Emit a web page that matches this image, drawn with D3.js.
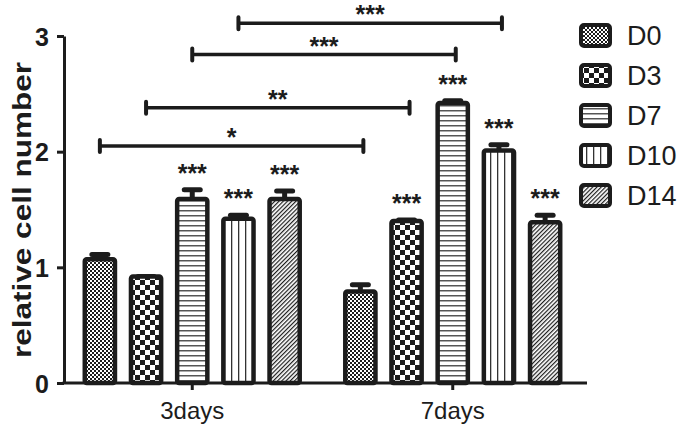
<!DOCTYPE html>
<html>
<head>
<meta charset="utf-8">
<script src="https://cdn.jsdelivr.net/npm/d3@7"></script>
<style>
  body { margin: 0; background: #fff; }
  text { font-family: "Liberation Sans", Arial, sans-serif; fill: #1c1c1c; }
</style>
</head>
<body>
<script>
// chart data
var groups = ["3days", "7days"];
var days = ["D0", "D3", "D7", "D10", "D14"];
var means3 = [1.07, 0.92, 1.59, 1.42, 1.59];
var errs3 = [0.04, 0.00, 0.08, 0.03, 0.07];
var stars3 = ["", "", "***", "***", "***"];
var means7 = [0.79, 1.40, 2.42, 2.01, 1.39];
var errs7 = [0.06, 0.01, 0.02, 0.05, 0.06];
var stars7 = ["", "***", "***", "***", "***"];
var yTicks = [0, 1, 2, 3];

// comparison brackets 3days vs 7days for the same day
var bracketDays = ["D0", "D3", "D7", "D10"];
var bracketLevels = [2.05, 2.38, 2.84, 3.11];
var bracketLabels = ["*", "**", "***", "***"];

var width = 680,
    height = 435;

var ink = "#1c1c1c";

var svg = d3.select("body")
    .append("svg")
    .attr("width", width)
    .attr("height", height);

var defs = svg.append("defs");

//fine checkerboard
var p0 = defs.append("pattern").attr("id", "pD0")
    .attr("patternUnits", "userSpaceOnUse").attr("width", 4).attr("height", 4);
p0.append("rect").attr("width", 4).attr("height", 4).attr("fill", "#fff");
p0.append("rect").attr("width", 2).attr("height", 2).attr("fill", ink);
p0.append("rect").attr("x", 2).attr("y", 2).attr("width", 2).attr("height", 2).attr("fill", ink);

//coarse checkerboard
var p3 = defs.append("pattern").attr("id", "pD3")
    .attr("patternUnits", "userSpaceOnUse").attr("width", 10).attr("height", 10);
p3.append("rect").attr("width", 10).attr("height", 10).attr("fill", "#fff");
p3.append("rect").attr("width", 5).attr("height", 5).attr("fill", ink);
p3.append("rect").attr("x", 5).attr("y", 5).attr("width", 5).attr("height", 5).attr("fill", ink);

//horizontal lines
var p7 = defs.append("pattern").attr("id", "pD7")
    .attr("patternUnits", "userSpaceOnUse").attr("width", 10).attr("height", 5);
p7.append("rect").attr("width", 10).attr("height", 5).attr("fill", "#fff");
p7.append("rect").attr("y", 0).attr("width", 10).attr("height", 1.5).attr("fill", "#555");

//vertical lines
var p10 = defs.append("pattern").attr("id", "pD10")
    .attr("patternUnits", "userSpaceOnUse").attr("width", 7).attr("height", 10);
p10.append("rect").attr("width", 7).attr("height", 10).attr("fill", "#fff");
p10.append("rect").attr("x", 0).attr("width", 1.3).attr("height", 10).attr("fill", "#333");

//diagonal lines
var p14 = defs.append("pattern").attr("id", "pD14")
    .attr("patternUnits", "userSpaceOnUse").attr("width", 3).attr("height", 10)
    .attr("patternTransform", "rotate(45)");
p14.append("rect").attr("width", 3).attr("height", 10).attr("fill", "#fff");
p14.append("rect").attr("width", 1.2).attr("height", 10).attr("fill", ink);

var fills = d3.scaleOrdinal()
    .domain(days)
    .range(["url(#pD0)", "url(#pD3)", "url(#pD7)", "url(#pD10)", "url(#pD14)"]);

//scales
var plotLeft = 64, plotRight = 587;

var y = d3.scaleLinear()
    .domain([0, 3])
    .range([383, 36]);

var x0 = d3.scaleBand()
    .domain(groups)
    .range([plotLeft - 2, plotRight - 4])
    .padding(0);

var x1 = d3.scaleBand()
    .domain(days)
    .range([0, x0.bandwidth()])
    .paddingInner(0.26)
    .paddingOuter(0.45);

var rows = [];
groups.forEach(function(g, gi){
    var m = gi === 0 ? means3 : means7,
        e = gi === 0 ? errs3 : errs7,
        s = gi === 0 ? stars3 : stars7;
    days.forEach(function(d, i){
        rows.push({group: g, day: d, mean: m[i], err: e[i], star: s[i]});
    });
});

function cx(d){ return x0(d.group) + x1(d.day) + x1.bandwidth() / 2; }

//error bars (upper only)
var errG = svg.append("g");
errG.selectAll(".stem")
    .data(rows)
    .enter()
    .append("line")
    .attr("x1", cx).attr("x2", cx)
    .attr("y1", function(d){ return y(d.mean); })
    .attr("y2", function(d){ return y(d.mean + d.err); })
    .attr("stroke", ink).attr("stroke-width", 5);
errG.selectAll(".cap")
    .data(rows)
    .enter()
    .append("line")
    .attr("x1", function(d){ return cx(d) - 8; })
    .attr("x2", function(d){ return cx(d) + 8; })
    .attr("y1", function(d){ return y(d.mean + d.err); })
    .attr("y2", function(d){ return y(d.mean + d.err); })
    .attr("stroke", ink).attr("stroke-width", 5)
    .attr("stroke-linecap", "round");

//bars
svg.selectAll(".bar")
    .data(rows)
    .enter()
    .append("rect")
    .attr("class", "bar")
    .attr("x", function(d){ return x0(d.group) + x1(d.day) + 2; })
    .attr("width", x1.bandwidth() - 4)
    .attr("y", function(d){ return y(d.mean); })
    .attr("height", function(d){ return y(0) - y(d.mean); })
    .attr("rx", 2)
    .attr("fill", function(d){ return fills(d.day); })
    .attr("stroke", ink)
    .attr("stroke-width", 4.5);

//significance stars over bars
svg.selectAll(".star")
    .data(rows.filter(function(d){ return d.star; }))
    .enter()
    .append("text")
    .attr("x", cx)
    .attr("y", function(d){ return y(d.mean + d.err) - 8; })
    .attr("text-anchor", "middle")
    .attr("font-size", 25)
    .attr("font-weight", "bold")
    .text(function(d){ return d.star; });

//brackets
var brackets = bracketDays.map(function(d, i){
    return {
        xa: x0(groups[0]) + x1(d) + x1.bandwidth() / 2,
        xb: x0(groups[1]) + x1(d) + x1.bandwidth() / 2 + 3,
        yv: y(bracketLevels[i]),
        label: bracketLabels[i]
    };
});
var br = svg.selectAll(".bracket")
    .data(brackets)
    .enter()
    .append("g");
br.append("line")
    .attr("x1", function(d){ return d.xa; }).attr("x2", function(d){ return d.xb; })
    .attr("y1", function(d){ return d.yv; }).attr("y2", function(d){ return d.yv; })
    .attr("stroke", ink).attr("stroke-width", 3.5);
br.append("path")
    .attr("d", function(d){
        return "M" + d.xa + "," + (d.yv - 6) + "V" + (d.yv + 6) +
               "M" + d.xb + "," + (d.yv - 6) + "V" + (d.yv + 6);
    })
    .attr("stroke", ink).attr("stroke-width", 4)
    .attr("stroke-linecap", "round");
br.append("text")
    .attr("x", function(d){ return (d.xa + d.xb) / 2; })
    .attr("y", function(d){ return d.yv; })
    .attr("text-anchor", "middle")
    .attr("font-size", 25)
    .attr("font-weight", "bold")
    .text(function(d){ return d.label; });

//y axis
var yAxis = svg.append("g")
    .attr("transform", "translate(" + plotLeft + ",0)")
    .call(d3.axisLeft(y).tickValues(yTicks).tickFormat(d3.format("d")).tickSize(7).tickSizeOuter(0));
yAxis.select(".domain").attr("stroke", ink).attr("stroke-width", 3);
yAxis.selectAll(".tick line").attr("stroke", ink).attr("stroke-width", 3);
yAxis.selectAll(".tick text")
    .attr("x", -15)
    .attr("dy", "0.36em")
    .attr("font-size", 25)
    .attr("font-weight", "bold")
    .attr("font-family", "Liberation Sans, Arial, sans-serif")
    .attr("fill", ink);

//x axis
var xAxis = svg.append("g")
    .attr("transform", "translate(0," + y(0) + ")")
    .call(d3.axisBottom(x0).tickSize(7).tickSizeOuter(0));
xAxis.select(".domain").remove();
xAxis.append("line")
    .attr("x1", plotLeft - 1.5).attr("x2", plotRight)
    .attr("stroke", ink).attr("stroke-width", 3);
xAxis.selectAll(".tick line").attr("stroke", ink).attr("stroke-width", 3);
xAxis.selectAll(".tick text")
    .attr("y", 19)
    .attr("dy", "0.71em")
    .attr("font-size", 24)
    .attr("font-family", "Liberation Sans, Arial, sans-serif")
    .attr("fill", ink);

//y label
svg.append("text")
    .attr("transform", "translate(31," + 210 + ") rotate(-90)")
    .attr("text-anchor", "middle")
    .attr("font-size", 26)
    .attr("font-weight", "bold")
    .attr("textLength", 296)
    .attr("lengthAdjust", "spacingAndGlyphs")
    .text("relative cell number");

//legend
var legend = svg.selectAll(".legend")
    .data(days)
    .enter()
    .append("g")
    .attr("transform", function(d, i){ return "translate(579," + (23 + i * 40) + ")"; });
legend.append("rect")
    .attr("x", 2).attr("y", 2)
    .attr("width", 29).attr("height", 21)
    .attr("rx", 3)
    .attr("fill", function(d){ return fills(d); })
    .attr("stroke", ink)
    .attr("stroke-width", 4);
legend.append("text")
    .attr("x", 48)
    .attr("y", 22)
    .attr("font-size", 27)
    .text(function(d){ return d; });
</script>
</body>
</html>
